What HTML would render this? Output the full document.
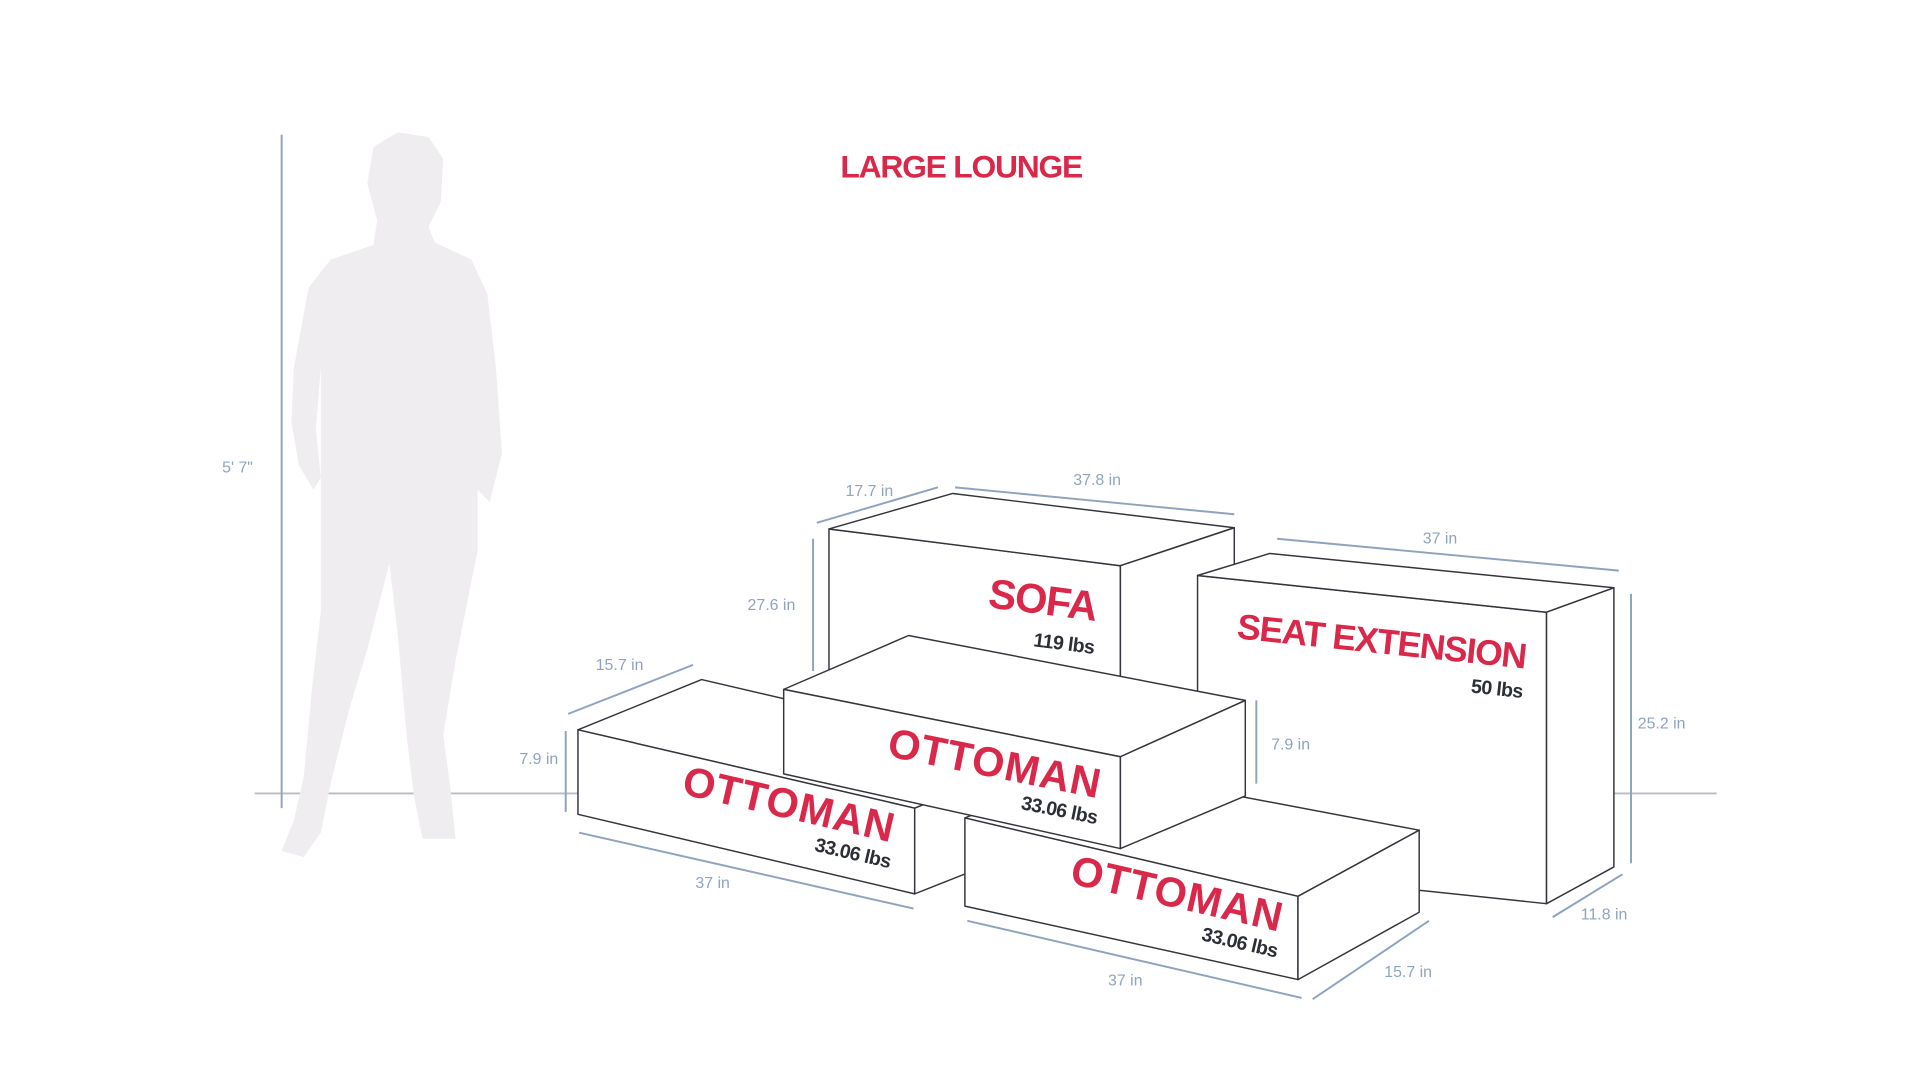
<!DOCTYPE html>
<html><head><meta charset="utf-8"><style>
html,body{margin:0;padding:0;background:#fff;}
svg{display:block;}
.d{stroke:#8fa3bf;stroke-width:1.6;fill:none;}
.l{font-family:"Liberation Sans",sans-serif;font-size:13px;fill:#8fa3bf;text-anchor:middle;}
.b{fill:#fff;stroke:#33363c;stroke-width:1.2;stroke-linejoin:round;}
.r{font-family:"Liberation Sans",sans-serif;font-weight:700;fill:#d9284a;letter-spacing:-1px;}
.o{letter-spacing:0.8px;}
.w{font-family:"Liberation Sans",sans-serif;font-weight:700;fill:#2c2f36;font-size:16px;letter-spacing:-0.5px;}
</style></head><body>
<svg width="1920" height="1080" viewBox="0 0 1568 882" preserveAspectRatio="none" xmlns="http://www.w3.org/2000/svg">
<rect width="1568" height="882" fill="#fff"/>
<text x="785" y="145" class="r" font-size="26" text-anchor="middle" letter-spacing="-0.3">LARGE LOUNGE</text>
<line x1="208" y1="648" x2="1402" y2="648" stroke="#b8bcc4" stroke-width="1.5"/>
<path fill="#efedf0" d="M305,200 L270,212 L252,235 L240,300 L238,345 L244,380 L256,400 L262,390 L258,350 L262,300 L262,420 L262,500 L255,560 L248,635 L240,670 L230,695 L248,700 L262,680 L270,640 L285,580 L300,530 L318,460 L325,520 L332,600 L338,650 L345,685 L372,685 L368,645 L362,600 L372,540 L390,450 L390,400 L400,410 L410,370 L405,300 L398,240 L385,212 L355,198 L350,185 L360,165 L362,130 L350,112 L325,108 L305,120 L300,150 L308,180 Z"/>
<line x1="230" y1="110" x2="230" y2="660" class="d"/>
<text x="194" y="386" class="l">5' 7"</text>

<polygon class="b" points="677,432 915,462 915,620 677,620"/>
<polygon class="b" points="677,432 778,403 1008,431 915,462"/>
<polygon class="b" points="915,462 1008,431 1008,620 915,620"/>
<text class="r" font-size="34" text-anchor="end" transform="translate(894,507) rotate(7.2)">SOFA</text>
<text class="w" text-anchor="end" transform="translate(893,534) rotate(7.2)">119 lbs</text>

<polygon class="b" points="978,470 1263,500 1263,738 978,708"/>
<polygon class="b" points="978,470 1037,452 1318,480 1263,500"/>
<polygon class="b" points="1263,500 1318,480 1318,708 1263,738"/>
<text class="r" font-size="29" text-anchor="end" letter-spacing="-0.5" transform="translate(1245,546) rotate(6)">SEAT EXTENSION</text>
<text class="w" text-anchor="end" transform="translate(1243,570) rotate(6)">50 lbs</text>

<polygon class="b" points="472,596 573,555 848,619 747,660"/>
<polygon class="b" points="472,596 747,660 747,730 472,665"/>
<polygon class="b" points="747,660 848,619 848,690 747,730"/>
<text class="r o" font-size="34" text-anchor="end" transform="translate(728,688) rotate(13)">OTTOMAN</text>
<text class="w" text-anchor="end" transform="translate(726,709) rotate(13)">33.06 lbs</text>

<polygon class="b" points="788,668 889,627 1159,678 1060,732"/>
<polygon class="b" points="788,668 1060,732 1060,800 788,740"/>
<polygon class="b" points="1060,732 1159,678 1159,745 1060,800"/>
<text class="r o" font-size="34" text-anchor="end" transform="translate(1045,761) rotate(13)">OTTOMAN</text>
<text class="w" text-anchor="end" transform="translate(1042,782) rotate(13)">33.06 lbs</text>

<polygon class="b" points="640,563 742,519 1017,572 915,618"/>
<polygon class="b" points="640,563 915,618 915,693 640,632"/>
<polygon class="b" points="915,618 1017,572 1017,650 915,693"/>
<text class="r o" font-size="34" text-anchor="end" transform="translate(897,652) rotate(11.3)">OTTOMAN</text>
<text class="w" text-anchor="end" transform="translate(895,673) rotate(11.3)">33.06 lbs</text>

<line x1="667" y1="427" x2="766" y2="398" class="d"/><text x="710" y="405" class="l">17.7 in</text>
<line x1="780" y1="398" x2="1008" y2="420" class="d"/><text x="896" y="396" class="l">37.8 in</text>
<line x1="664" y1="440" x2="664" y2="548" class="d"/><text x="630" y="498" class="l">27.6 in</text>
<line x1="1043" y1="440" x2="1322" y2="466" class="d"/><text x="1176" y="444" class="l">37 in</text>
<line x1="1332" y1="485" x2="1332" y2="705" class="d"/><text x="1357" y="595" class="l">25.2 in</text>
<line x1="1268" y1="749" x2="1325" y2="714" class="d"/><text x="1310" y="751" class="l">11.8 in</text>
<line x1="1026" y1="572" x2="1026" y2="640" class="d"/><text x="1054" y="612" class="l">7.9 in</text>
<line x1="464" y1="583" x2="566" y2="543" class="d"/><text x="506" y="547" class="l">15.7 in</text>
<line x1="462" y1="597" x2="462" y2="663" class="d"/><text x="440" y="624" class="l">7.9 in</text>
<line x1="473" y1="680" x2="746" y2="742" class="d"/><text x="582" y="725" class="l">37 in</text>
<line x1="790" y1="752" x2="1063" y2="815" class="d"/><text x="919" y="805" class="l">37 in</text>
<line x1="1072" y1="816" x2="1167" y2="752" class="d"/><text x="1150" y="798" class="l">15.7 in</text>
</svg>
</body></html>
